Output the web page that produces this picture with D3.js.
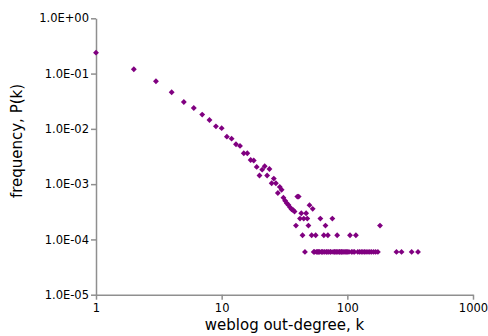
<!DOCTYPE html>
<html lang="en">
<head>
<meta charset="utf-8">
<title>weblog out-degree</title>
<script src="https://cdn.jsdelivr.net/npm/d3@7/dist/d3.min.js"></script>
<style>
    body {
      margin: 0;
      background: #fff;
    }

    .axis text {
      font: 11.5px "DejaVu Sans", sans-serif;
      fill: #000;
    }

    .axis path, .axis line {
      fill: none;
      stroke: #8f8f8f;
      stroke-width: 1.5;
    }

    .title {
      font: 15px "DejaVu Sans", sans-serif;
      fill: #000;
    }

    .dot {
      fill: #800080;
    }
</style>
</head>
<body>
<svg width="488" height="336"></svg>
<script>

// out-degree k and its frequency P(k)
var degree = [1, 2, 3, 4, 5, 6, 7, 8, 9, 10,
  11, 12, 13, 14, 15, 16, 17, 18, 19, 20,
  21, 22, 23, 24, 25, 26, 27, 28, 29, 30,
  31, 32, 33, 34, 35, 36, 37, 38, 39, 40,
  41, 42, 43, 44, 45, 46, 47, 48, 49, 50,
  52, 53, 54, 55, 56, 57, 58, 59, 60, 61,
  62, 63, 64, 65, 66, 67, 68, 69, 70, 71,
  73, 74, 76, 77, 79, 80, 82, 83, 84, 86,
  87, 89, 90, 92, 94, 96, 98, 100, 103, 105,
  108, 111, 114, 117, 121, 125, 129, 133, 137, 141,
  146, 151, 156, 162, 168, 175, 182, 246, 270, 325,
  365];

var freq = [0.239, 0.12, 0.0726, 0.0459, 0.0306, 0.0239, 0.0181, 0.0145, 0.0111, 0.0103,
  0.00723, 0.00665, 0.00526, 0.00491, 0.00362, 0.00362, 0.00274, 0.00268, 0.00205, 0.00143,
  0.00183, 0.00211, 0.00143, 0.00188, 0.00104, 0.00126, 0.00104, 0.00069, 0.00089, 0.00079,
  0.00057, 0.00050, 0.00045, 0.00042, 0.00038, 0.00035, 0.00034, 0.00032, 0.000178, 0.000595,
  0.000595, 0.000238, 0.000298, 0.000119, 0.000238, 0.0000595, 0.000298, 0.000238, 0.000178, 0.000417,
  0.000119, 0.000357, 0.0000595, 0.0000595, 0.000119, 0.0000595, 0.0000595, 0.0000595, 0.0000595, 0.000238,
  0.0000595, 0.0000595, 0.0000595, 0.000119, 0.0000595, 0.000178, 0.0000595, 0.0000595, 0.000119, 0.0000595,
  0.0000595, 0.0000595, 0.000238, 0.0000595, 0.0000595, 0.0000595, 0.0000595, 0.000119, 0.0000595, 0.0000595,
  0.0000595, 0.0000595, 0.0000595, 0.0000595, 0.0000595, 0.0000595, 0.0000595, 0.0000595, 0.0000595, 0.000119,
  0.0000595, 0.0000595, 0.0000595, 0.000119, 0.0000595, 0.0000595, 0.0000595, 0.0000595, 0.0000595, 0.0000595,
  0.0000595, 0.0000595, 0.0000595, 0.0000595, 0.0000595, 0.0000595, 0.000178, 0.0000595, 0.0000595, 0.0000595,
  0.0000595];

var xTicks = [1, 10, 100, 1000];
var yTicks = [1, 0.1, 0.01, 0.001, 0.0001, 0.00001];

var svg = d3.select("svg");
var plotL = 96, plotR = 473, plotT = 18.3, plotB = 294.7;

var x = d3.scaleLog().domain([1, 1000]).range([plotL, plotR]);
var y = d3.scaleLog().domain([0.00001, 1]).range([plotB, plotT]);

function sci(d) {
  var e = Math.round(Math.log10(d));
  var m = d / Math.pow(10, e);
  var s = e < 0 ? "-" : "+";
  var a = Math.abs(e);
  return m.toFixed(1) + "E" + s + (a < 10 ? "0" + a : a);
}

svg.append("g")
  .attr("class", "axis")
  .attr("transform", "translate(0," + plotB + ")")
  .call(d3.axisBottom(x).tickValues(xTicks).tickFormat(d3.format("d")).tickSize(5).tickSizeOuter(0).tickPadding(4));

svg.append("g")
  .attr("class", "axis")
  .attr("transform", "translate(" + plotL + ",0)")
  .call(d3.axisLeft(y).tickValues(yTicks).tickFormat(sci).tickSize(5).tickSizeOuter(0).tickPadding(2));

var pts = degree.map(function(k, i) { return [k, freq[i]]; });

svg.selectAll(".dot")
  .data(pts)
  .enter()
  .append("path")
  .attr("class", "dot")
  .attr("d", d3.symbol().type(d3.symbolDiamond2).size(22))
  .attr("transform", function(d) { return "translate(" + x(d[0]) + "," + y(d[1]) + ")"; });

svg.append("text")
  .attr("class", "title")
  .attr("x", (plotL + plotR) / 2)
  .attr("y", 330)
  .attr("text-anchor", "middle")
  .text("weblog out-degree, k");

svg.append("text")
  .attr("class", "title")
  .attr("transform", "translate(22,141) rotate(-90)")
  .attr("text-anchor", "middle")
  .text("frequency, P(k)");

</script>
</body>
</html>
